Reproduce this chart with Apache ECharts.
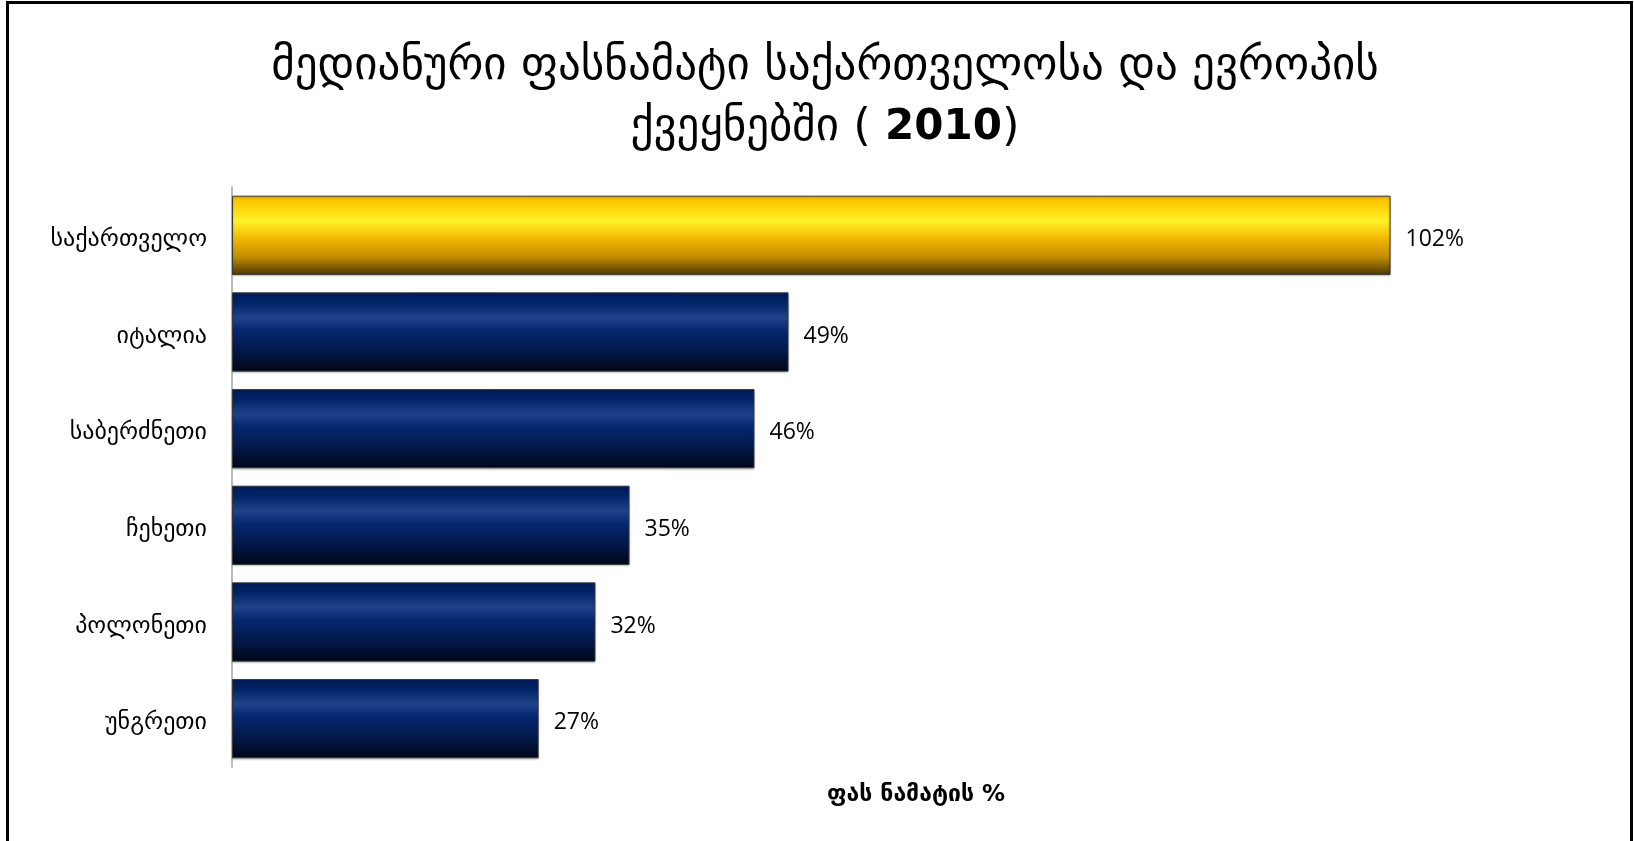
<!DOCTYPE html>
<html>
<head>
<meta charset="utf-8">
<script src="https://cdn.jsdelivr.net/npm/echarts@6/dist/echarts.min.js"></script>
<style>
  html, body { margin: 0; padding: 0; background: #fff; }
  #chart { width: 1634px; height: 841px; }
</style>
</head>
<body>
<div id="chart"></div>
<script>
// Median markup in Georgia and European countries, 2010
const countries = ['საქართველო', 'იტალია', 'საბერძნეთი', 'ჩეხეთი', 'პოლონეთი', 'უნგრეთი'];
const markupPct = [102, 49, 46, 35, 32, 27];
const titleLine1 = 'მედიანური ფასნამატი საქართველოსა და ევროპის';
const titleLine2 = 'ქვეყნებში ( ';
const titleYear = '2010';
const axisTitle = 'ფას ნამატის %';
const highlightCountry = 'საქართველო';

const goldFill = new echarts.graphic.LinearGradient(0, 0, 0, 1, [
  { offset: 0, color: '#f2bb00' },
  { offset: 0.08, color: '#ffc800' },
  { offset: 0.32, color: '#fff226' },
  { offset: 0.55, color: '#f2b600' },
  { offset: 0.78, color: '#bf8b00' },
  { offset: 1, color: '#4a3800' }
]);
const navyFill = new echarts.graphic.LinearGradient(0, 0, 0, 1, [
  { offset: 0, color: '#001c58' },
  { offset: 0.12, color: '#002266' },
  { offset: 0.32, color: '#20428a' },
  { offset: 0.48, color: '#062770' },
  { offset: 0.75, color: '#021848' },
  { offset: 1, color: '#000616' }
]);

const chart = echarts.init(document.getElementById('chart'), null, { renderer: 'canvas' });

chart.setOption({
  backgroundColor: '#ffffff',
  animation: false,
  title: [
    {
      text: titleLine1 + '\n{n|' + titleLine2 + '}{b|' + titleYear + '}{n|)}',
      left: 820,
      top: 32,
      textAlign: 'center',
      textStyle: {
        fontFamily: 'DejaVu Sans',
        fontSize: 45,
        fontWeight: 'normal',
        color: '#000',
        lineHeight: 61,
        rich: {
          n: { fontFamily: 'DejaVu Sans', fontSize: 45, color: '#000', lineHeight: 61 },
          b: { fontFamily: 'DejaVu Sans', fontSize: 42, fontWeight: 'bold', color: '#000', lineHeight: 61 }
        }
      }
    },
    {
      text: axisTitle,
      left: 911,
      top: 779,
      textAlign: 'center',
      textStyle: {
        fontFamily: 'DejaVu Sans',
        fontSize: 23,
        fontWeight: 'bold',
        color: '#000'
      }
    }
  ],
  grid: { left: 232, right: 39, top: 187, bottom: 74, containLabel: false },
  xAxis: {
    type: 'value',
    min: 0,
    max: 120,
    interval: 20,
    axisLine: { show: false },
    axisTick: { show: false },
    axisLabel: { show: false },
    splitLine: { show: false }
  },
  yAxis: {
    type: 'category',
    inverse: true,
    data: countries,
    axisLine: { show: true, lineStyle: { color: '#a6a6a6', width: 1.5 } },
    axisTick: { show: false },
    axisLabel: {
      margin: 25,
      formatter: (v) => '{c|' + v + '}',
      rich: {
        c: {
          fontFamily: 'DejaVu Sans',
          fontSize: 24,
          color: '#000',
          padding: [9, 0, 0, 0]
        }
      }
    }
  },
  series: [{
    type: 'bar',
    data: markupPct.map((v, i) => ({
      value: v,
      itemStyle: { color: countries[i] === highlightCountry ? goldFill : navyFill }
    })),
    barCategoryGap: '18%',
    itemStyle: {
      borderColor: '#3a3a3a',
      borderWidth: 1,
      shadowColor: 'rgba(0,0,0,0.25)',
      shadowBlur: 2,
      shadowOffsetY: 1
    },
    label: {
      show: true,
      position: 'right',
      distance: 15,
      offset: [0, 4],
      formatter: '{c}%',
      fontFamily: 'Open Sans',
      fontSize: 23,
      color: '#000'
    }
  }],
  graphic: [{
    type: 'rect',
    silent: true,
    shape: { x: 7.5, y: 2.5, width: 1624, height: 850 },
    style: { fill: 'none', stroke: '#000', lineWidth: 3 }
  }]
});
</script>
</body>
</html>
